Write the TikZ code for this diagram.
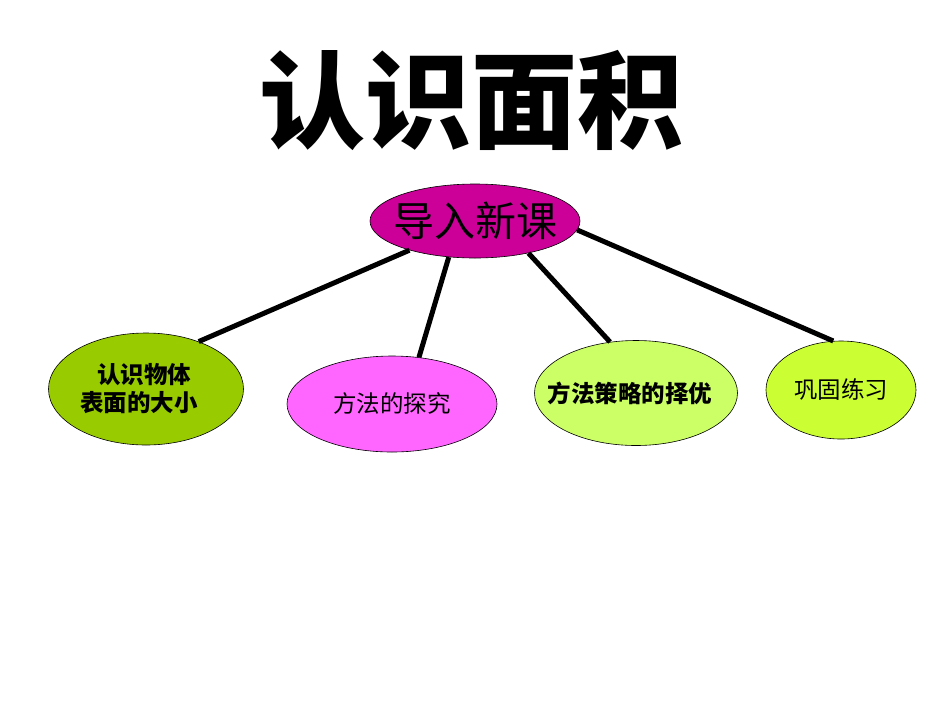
\documentclass[tikz,border=0pt]{standalone}
\usepackage{fontspec}
\newfontfamily\cjk{Noto Sans CJK SC}
\usetikzlibrary{shapes.geometric}
\begin{document}
\begin{tikzpicture}[x=1pt,y=-1pt,
  bubble/.style={ellipse,draw=black,line width=0.6pt,inner sep=0pt},
  txt/.style={align=center,inner sep=0pt,font=\cjk\fontsize{23.5}{28}\selectfont},
  txtb/.style={txt,font=\cjk\bfseries\fontsize{23.5}{28}\selectfont},
  link/.style={line width=5pt,black}]
\useasboundingbox (0,0) rectangle (950,713);
\node[font=\cjk\bfseries\fontsize{106}{110}\selectfont] (title) at (471,100) {认识面积};
\node[bubble,fill={rgb,255:red,204;green,0;blue,153},minimum width=210pt,minimum height=74pt] (top) at (475,221) {};
\node[txt,font=\cjk\fontsize{41}{44}\selectfont] (toptext) at (top.center) {导入新课};
\node[bubble,fill={rgb,255:red,153;green,204;blue,0},minimum width=195pt,minimum height=112pt] (c1) at (146,389) {};
\node[txtb] (c1text) at (139,389) {\hspace*{10pt}认识物体\\表面的大小};
\node[bubble,fill={rgb,255:red,255;green,102;blue,255},minimum width=210pt,minimum height=96pt] (c2) at (392,404) {};
\node[txt] (c2text) at (c2.center) {方法的探究};
\node[bubble,fill={rgb,255:red,204;green,255;blue,102},minimum width=203pt,minimum height=105pt] (c3) at (636,393) {};
\node[txtb] (c3text) at (630,393) {方法策略的择优};
\node[bubble,fill={rgb,255:red,204;green,255;blue,51},minimum width=150pt,minimum height=98pt] (c4) at (841,390) {};
\node[txt] (c4text) at (c4.center) {巩固练习};
\draw[link] (top.204.5) -- (c1.42.7);
\draw[link] (top.234) -- (c2.60.7);
\draw[link] (top.329.7) -- (c3.117.4);
\draw[link] (top.355.6) -- (c4.99.3);
\end{tikzpicture}
\end{document}
